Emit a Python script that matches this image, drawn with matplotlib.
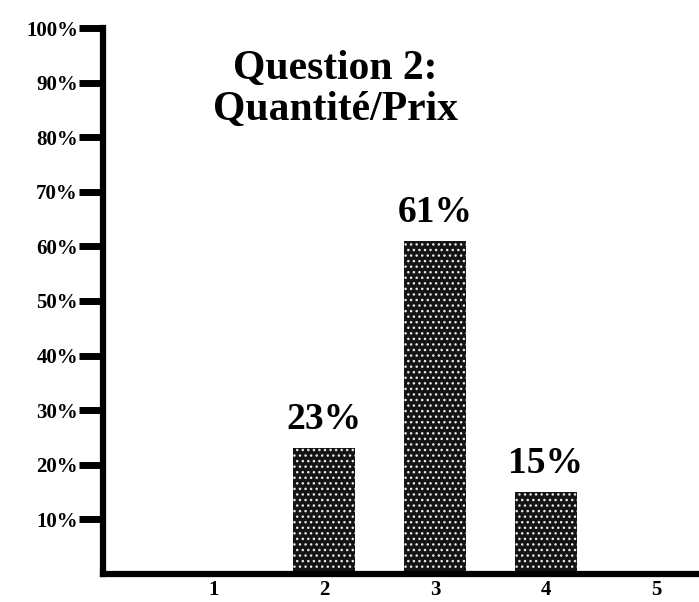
import matplotlib.pyplot as plt

# Survey answers for question 2 (share of respondents per score)
scores = [1, 2, 3, 4, 5]
answer_scores = [2, 3, 4]
answer_shares = [23, 61, 15]
y_ticks = [10, 20, 30, 40, 50, 60, 70, 80, 90, 100]
y_tick_labels = [f"{v}%" for v in y_ticks]
chart_title = "Question 2:\nQuantité/Prix"

plt.rcParams["font.family"] = ["Liberation Serif", "DejaVu Serif"]
plt.rcParams["font.weight"] = "bold"
plt.rcParams["hatch.linewidth"] = 1.0

fig = plt.figure(figsize=(6.99, 6.02), dpi=100)
ax = fig.add_axes([103 / 699, 28 / 602, 1 - 103 / 699 + 0.01, (574 - 28) / 602])

# dark halftone bars
bars = ax.bar(
    answer_scores,
    answer_shares,
    width=0.56,
    color="#141414",
    edgecolor="#e8e8e8",
    linewidth=0,
    hatch="...",
)

for score, share in zip(answer_scores, answer_shares):
    ax.annotate(
        f"{share}%",
        xy=(score, share),
        xytext=(0, 8),
        textcoords="offset points",
        ha="center",
        va="bottom",
        fontsize=27,
        fontweight="bold",
    )

ax.text(
    2.1, 88.8, chart_title,
    ha="center", va="center",
    fontsize=30, fontweight="bold",
    linespacing=1.1,
)

ax.set_xlim(0, 5.45)
ax.set_ylim(0, 100)

ax.set_xticks(scores)
ax.set_xticklabels([str(s) for s in scores], fontsize=15, fontweight="bold")
ax.set_yticks(y_ticks)
ax.set_yticklabels(y_tick_labels, fontsize=15, fontweight="bold")

ax.tick_params(axis="x", length=0, pad=4)
ax.tick_params(axis="y", direction="out", length=17, width=5, pad=1, color="black")

for side in ["top", "right"]:
    ax.spines[side].set_visible(False)
for side in ["left", "bottom"]:
    ax.spines[side].set_linewidth(4.5)
    ax.spines[side].set_color("black")

fig.savefig("out.png", dpi=100)
